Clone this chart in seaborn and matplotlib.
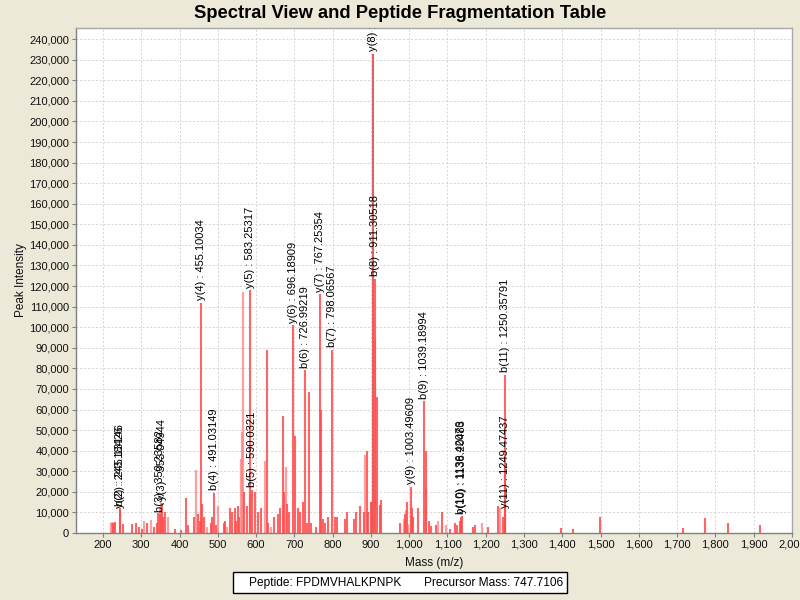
import matplotlib
matplotlib.use("Agg")
import matplotlib.pyplot as plt
from matplotlib.ticker import FuncFormatter, MultipleLocator
from matplotlib.patches import Rectangle
import seaborn as sns

# ---------------- data ----------------
# main (darker) peaks: m/z and intensity
peak_mz = [227, 231, 251, 275, 286, 294, 302, 316, 333, 340, 344, 358, 362, 387, 405,
           417, 423, 438, 449, 453, 458, 463, 482, 486, 496, 516, 520, 532, 538, 544,
           548, 552, 556, 568, 575, 596, 605, 614, 628, 631, 647, 657, 662, 670, 674,
           682, 686, 701, 710, 714, 722, 732, 738, 743, 756, 769, 775, 779, 788, 806,
           811, 833, 837, 855, 861, 872, 882, 889, 893, 899, 902, 915, 923, 926, 976,
           989, 993, 1008, 1011, 1023, 1043, 1052, 1058, 1071, 1085, 1106, 1119, 1124,
           1133, 1167, 1173, 1207, 1233, 1244, 1251.5, 1396, 1429, 1498, 1714, 1773,
           1832, 1917]
peak_int = [5000, 5500, 4500, 4500, 5000, 3000, 2000, 5000, 3000, 5000, 9700, 8000, 10000,
            2000, 1500, 17000, 4000, 7800, 9000, 6000, 14000, 8000, 5000, 8000, 4000, 5000,
            6000, 12000, 10000, 12000, 6000, 13000, 8000, 20000, 13000, 20000, 10000, 12000,
            89000, 5000, 8000, 9000, 12000, 57000, 20000, 14000, 10000, 47000, 12000, 10000,
            15000, 5000, 68500, 5000, 3000, 60000, 7000, 5000, 8000, 8000, 8000, 7000, 10000,
            7000, 10000, 13000, 10000, 40000, 10000, 15000, 15000, 66000, 13700, 16000, 5000,
            9000, 15000, 12000, 8000, 12000, 40000, 6000, 3500, 4000, 10000, 2000, 5000, 4000,
            6000, 3000, 4000, 3000, 13000, 8000, 33000, 2500, 2000, 7700, 2500, 7500, 5000,
            4000]

# lighter (pink) peaks
light_mz = [221, 224, 229, 307, 325, 348, 352, 370, 444, 473, 501, 524, 560, 563, 566,
            585, 622, 639, 679, 885, 910, 987, 991, 997, 1045, 1075, 1096, 1189, 1236]
light_int = [5000, 5500, 5000, 6000, 6500, 12000, 14600, 7800, 30600, 3000, 13000, 3000,
             36000, 49000, 117000, 19000, 35000, 3000, 32000, 38000, 94000, 7000, 11000,
             4000, 22000, 6000, 4000, 5000, 12000]

# annotated fragment ions
ann_labels = ["y(2) : 243.18426", "b(2) : 245.13146", "b(3) : 350.23582", "y(3) : 353.04944",
              "y(4) : 455.10034", "b(4) : 491.03149", "y(5) : 583.25317", "b(5) : 590.0321",
              "y(6) : 696.18909", "b(6) : 726.99219", "y(7) : 767.25354", "b(7) : 798.06567",
              "y(8) : 906.31079", "b(8) : 911.30518", "y(9) : 1003.49609", "b(9) : 1039.18994",
              "b(10) : 1136.42076", "y(10) : 1138.20483", "y(11) : 1249.47437",
              "b(11) : 1250.35791"]
ann_mz = [243.18426, 245.13146, 350.23582, 353.04944, 455.10034, 491.03149, 583.25317,
          590.0321, 696.18909, 726.99219, 767.25354, 798.06567, 906.31079, 911.30518,
          1003.49609, 1039.18994, 1136.42076, 1138.20483, 1249.47437, 1250.35791]
ann_int = [11000, 12000, 9000, 14600, 112000, 19500, 118000, 21000, 101000, 79000, 116000,
           89000, 233000, 123500, 22500, 64000, 8000, 8500, 11000, 77000]

peptide = "FPDMVHALKPNPK"
precursor = "747.7106"
title = "Spectral View and Peptide Fragmentation Table"

# ---------------- style ----------------
sns.set_theme(style="whitegrid")
plt.rcParams['font.family'] = ['Liberation Sans', 'DejaVu Sans']
bg = "#ECE9D8"

fig = plt.figure(figsize=(8, 6), dpi=100, facecolor=bg)
ax = fig.add_axes([76/800, 1-533/600, (792-76)/800, (533-28)/600])
ax.set_facecolor("white")

ax.vlines(light_mz, 0, light_int, colors="#ff8080", alpha=0.75, linewidth=1.6)
ax.vlines(peak_mz, 0, peak_int, colors="#ff4a4a", alpha=0.85, linewidth=1.5)
ax.vlines(ann_mz, 0, ann_int, colors="#ff4a4a", alpha=0.85, linewidth=1.5)
ax.vlines([ann_mz[12]], 0, [ann_int[12]], colors="#e06060", linewidth=1.2)

for lab, x, y in zip(ann_labels, ann_mz, ann_int):
    ax.text(x, y + 1200, lab, rotation=90, ha="center", va="bottom", fontsize=8,
            color="black", clip_on=True)

ax.set_xlim(129.5, 2000)
ax.set_ylim(0, 245400)
ax.xaxis.set_major_locator(MultipleLocator(100))
ax.yaxis.set_major_locator(MultipleLocator(10000))
fmt = FuncFormatter(lambda v, p: f"{int(round(v)):,}")
ax.xaxis.set_major_formatter(fmt)
ax.yaxis.set_major_formatter(fmt)
ax.tick_params(axis="both", labelsize=8, colors="#808080", labelcolor="#111111",
               length=3, width=0.8, direction="out", pad=2)
ax.tick_params(axis="both", which="both", bottom=True, left=True)

ax.grid(True, color="#d4d4d4", linestyle=(0, (2, 2)), linewidth=0.7)
for side, sp in ax.spines.items():
    sp.set_color("#a8a8a8")
    sp.set_linewidth(1.0)
ax.spines["left"].set_color("#808080")
ax.spines["bottom"].set_color("#808080")

ax.set_xlabel("Mass (m/z)", fontsize=8.5, color="#111111", labelpad=5)
ax.set_ylabel("Peak Intensity", fontsize=8.5, color="#111111", labelpad=1.5)

fig.text(0.5, 1-13/600, title, ha="center", va="center", fontsize=13.2, fontweight="bold",
         color="black")

fig.patches.append(Rectangle((233/800, 1-593/600), (567-233)/800, 21/600,
                             transform=fig.transFigure, facecolor="white",
                             edgecolor="black", linewidth=1.0))
fig.text(249/800, 1-583/600, f"Peptide: {peptide}", ha="left", va="center",
         fontsize=8.6, color="black")
fig.text(563/800, 1-583/600, f"Precursor Mass: {precursor}", ha="right", va="center",
         fontsize=8.6, color="black")

fig.savefig("out.png", dpi=100, facecolor=bg)
